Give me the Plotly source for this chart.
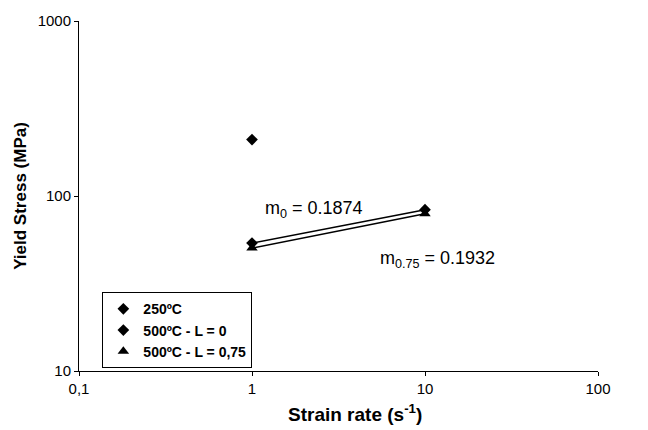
import plotly.graph_objects as go

x250 = [1]
y250 = [210]
x500_L0 = [1, 10]
y500_L0 = [53.8, 83.5]
x500_L075 = [1, 10]
y500_L075 = [50.4, 79.2]

xticks = [0.1, 1, 10, 100]
xticktext = ["0,1", "1", "10", "100"]
yticks = [10, 100, 1000]
yticktext = ["10", "100", "1000"]

FONT = "Liberation Sans, Arial, sans-serif"

fig = go.Figure()
# fitted lines (no legend)
fig.add_trace(go.Scatter(x=x500_L0, y=y500_L0, mode="lines", showlegend=False,
                         line=dict(color="black", width=1.5)))
fig.add_trace(go.Scatter(x=x500_L075, y=y500_L075, mode="lines", showlegend=False,
                         line=dict(color="black", width=1.5)))
# markers
fig.add_trace(go.Scatter(x=x250, y=y250, mode="markers", name="<b>250ºC</b>",
                         marker=dict(symbol="diamond", size=9, color="black")))
fig.add_trace(go.Scatter(x=x500_L0, y=y500_L0, mode="markers", name="<b>500ºC - L = 0</b>",
                         marker=dict(symbol="diamond", size=9, color="black")))
fig.add_trace(go.Scatter(x=x500_L075, y=y500_L075, mode="markers", name="<b>500ºC - L = 0,75</b>",
                         marker=dict(symbol="triangle-up", size=10, color="black")))

fig.add_annotation(x=0.065, y=1.923, xref="x", yref="y", text="m<sub>0</sub> = 0.1874",
                   showarrow=False, xanchor="left", yanchor="middle",
                   font=dict(family=FONT, size=18, color="black"))
fig.add_annotation(x=0.73, y=1.64, xref="x", yref="y", text="m<sub>0.75</sub> = 0.1932",
                   showarrow=False, xanchor="left", yanchor="middle",
                   font=dict(family=FONT, size=18, color="black"))
# x-axis title (offset slightly right of centre as in the reference)
fig.add_annotation(x=(355 - 79) / 519, y=-42 / 353, xref="paper", yref="paper",
                   text="<b>Strain rate (s<sup>-1</sup>)</b>", showarrow=False,
                   xanchor="center", yanchor="middle",
                   font=dict(family=FONT, size=19, color="black"))

fig.update_layout(
    width=648, height=430,
    margin=dict(l=79, r=50, t=18, b=59),
    paper_bgcolor="white", plot_bgcolor="white",
    font=dict(family=FONT, color="black", size=15),
    showlegend=True,
    legend=dict(x=0.045, y=0.225, xanchor="left", yanchor="top",
                bordercolor="black", borderwidth=1, bgcolor="white",
                font=dict(family=FONT, size=14, color="black"),
                itemwidth=30, tracegroupgap=0),
    xaxis=dict(type="log", range=[-1, 2], tickvals=xticks, ticktext=xticktext,
               showgrid=False, zeroline=False, showline=True, linecolor="black", linewidth=1,
               ticks="outside", ticklen=4, tickcolor="black",
               tickfont=dict(family=FONT, size=15)),
    yaxis=dict(type="log", range=[1, 3], tickvals=yticks, ticktext=yticktext,
               showgrid=False, zeroline=False, showline=True, linecolor="black", linewidth=1,
               ticks="outside", ticklen=4, tickcolor="black",
               tickfont=dict(family=FONT, size=15),
               title=dict(text="<b>Yield Stress (MPa)</b>", font=dict(family=FONT, size=17), standoff=6)),
)

fig.write_html("out.html")
